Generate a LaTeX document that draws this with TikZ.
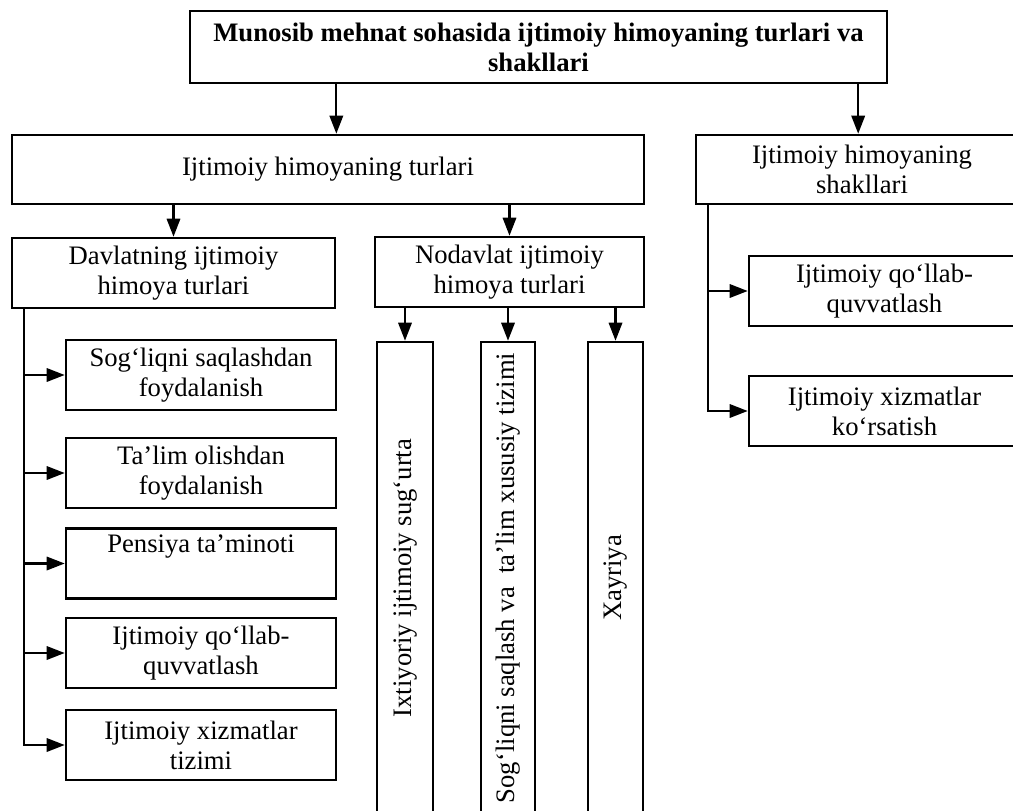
\documentclass[tikz,border=0pt]{standalone}
\usepackage{fontspec}
\setmainfont{Liberation Serif}
\usetikzlibrary{arrows.meta, positioning, calc}
\newcommand{\pxu}{0.75pt}

\begin{document}
\begin{tikzpicture}[x=0.75pt, y=-0.75pt,
    every node/.style={font=\fontsize{20}{22.5}\selectfont},
    box/.style={draw, line width=1.9pt, align=center, inner sep=1pt},
    lbox/.style={box, minimum width=270*\pxu, minimum height=70*\pxu},
    vbox/.style={box, minimum height=472*\pxu},
    arr/.style={line width=1.7pt, -{Triangle[length=13.5pt, width=10pt]}}]
    \useasboundingbox (0,0) rectangle (1013,810);
    \clip (0,0) rectangle (1013,810);
    \node[box, minimum width=697*\pxu, minimum height=72*\pxu, font=\fontsize{20}{22.5}\selectfont\bfseries] (title) at (538.5,47) {Munosib mehnat sohasida ijtimoiy himoyaning turlari va\\shakllari};
    \node[box, minimum width=632*\pxu, minimum height=69*\pxu] (turlari) at (328,169.5) {Ijtimoiy himoyaning turlari};
    \node[box, minimum width=332*\pxu, minimum height=69*\pxu] (shakllari) at (862,169.5) {Ijtimoiy himoyaning\\shakllari};
    \node[box, minimum width=323*\pxu, minimum height=70*\pxu] (davlat) at (173.5,273) {Davlatning ijtimoiy\\himoya turlari};
    \node[box, minimum width=269*\pxu, minimum height=70*\pxu] (nodavlat) at (509.5,272) {Nodavlat ijtimoiy\\himoya turlari};
    \foreach \n/\x/\w/\t in {ixtiyoriy/405/56/{Ixtiyoriy ijtimoiy sug‘urta}, xususiy/508/54/{Sog‘liqni saqlash va\ \ ta’lim xususiy tizimi}, xayriya/615.5/55/{Xayriya}}
      \node[vbox, minimum width=\w*\pxu] (\n) at (\x,578) {\rotatebox{90}{\t}};
    \foreach \n/\y/\t in {sogliq/375/{Sog‘liqni saqlashdan\\foydalanish}, talim/473/{Ta’lim olishdan\\foydalanish}, pensiya/563.5/{Pensiya ta’minoti\\\strut}, qollab/653/{Ijtimoiy qo‘llab-\\quvvatlash}, xizmat/745/{Ijtimoiy xizmatlar\\tizimi}}
      \node[lbox] (\n) at (201,\y) {\t};
    \node[box, minimum width=271*\pxu, minimum height=70*\pxu] (rqollab) at (884.5,291) {Ijtimoiy qo‘llab-\\quvvatlash};
    \node[box, minimum width=271*\pxu, minimum height=70*\pxu] (rxizmat) at (884.5,411) {Ijtimoiy xizmatlar\\ko‘rsatish};
    \coordinate (t1) at ($(title.south west)!0.211!(title.south east)$);
    \coordinate (t2) at ($(title.south west)!0.957!(title.south east)$);
    \coordinate (dtrunk) at ([xshift=13*\pxu]davlat.south west);
    \coordinate (strunk) at ([xshift=13*\pxu]shakllari.south west);
    \draw[arr] (t1) -- (t1 |- turlari.north);
    \draw[arr] (t2) -- (t2 |- shakllari.north);
    \draw[arr] (turlari.south -| davlat.north) -- (davlat.north);
    \draw[arr] (turlari.south -| nodavlat.north) -- (nodavlat.north);
    \foreach \n in {ixtiyoriy, xususiy, xayriya}
      \draw[arr] (nodavlat.south -| \n.north) -- (\n.north);
    \draw[arr] (dtrunk) |- (xizmat.west);
    \foreach \n in {sogliq, talim, pensiya, qollab}
      \draw[arr] (dtrunk |- \n.west) -- (\n.west);
    \draw[arr] (strunk) |- (rxizmat.west);
    \draw[arr] (strunk |- rqollab.west) -- (rqollab.west);
  \end{tikzpicture}
\end{document}
